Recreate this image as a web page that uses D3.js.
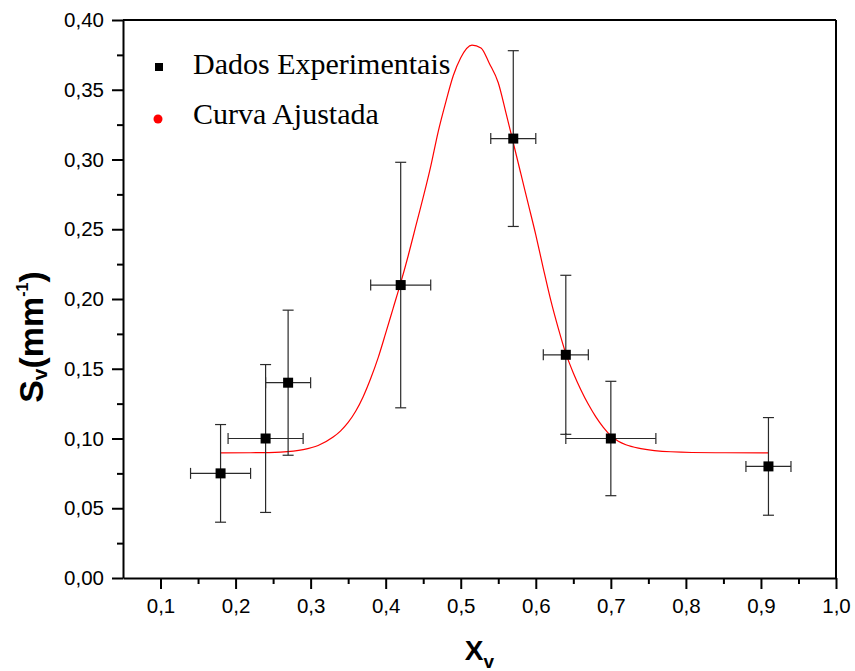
<!DOCTYPE html>
<html>
<head>
<meta charset="utf-8">
<script src="https://cdn.jsdelivr.net/npm/d3@7"></script>
<style>
  body { margin: 0; background: #fff; }
  .tickLabel { font-family: "Liberation Sans", Arial, sans-serif; font-size: 20.5px; }
  .legendText { font-family: "Liberation Serif", "Times New Roman", serif; font-size: 30px; }
  .axisTitle { font-family: "Liberation Sans", Arial, sans-serif; font-weight: bold; }
</style>
</head>
<body>
<div id="chart"></div>
<script>
// experimental points
const pointX = [0.18, 0.24, 0.27, 0.42, 0.57, 0.64, 0.70, 0.91];
const pointY = [0.075, 0.100, 0.140, 0.210, 0.315, 0.160, 0.100, 0.080];
const errX   = [0.04, 0.05, 0.03, 0.04, 0.03, 0.03, 0.06, 0.03];
const errY   = [0.035, 0.053, 0.052, 0.088, 0.063, 0.057, 0.041, 0.035];

// fitted curve
const curveX = [0.18, 0.22, 0.26, 0.29, 0.31, 0.33, 0.34, 0.35, 0.36, 0.37, 0.38, 0.39, 0.40, 0.41, 0.42, 0.43, 0.44, 0.46, 0.47, 0.48, 0.49, 0.50, 0.515, 0.527, 0.538, 0.55, 0.56, 0.57, 0.58, 0.59, 0.60, 0.61, 0.62, 0.63, 0.64, 0.65, 0.66, 0.67, 0.68, 0.69, 0.70, 0.71, 0.72, 0.74, 0.78, 0.84, 0.91];
const curveY = [0.0897, 0.0898, 0.0903, 0.0920, 0.0950, 0.1010, 0.1055, 0.1115, 0.1195, 0.1300, 0.1430, 0.1580, 0.1755, 0.1935, 0.2115, 0.2310, 0.2520, 0.2950, 0.3200, 0.3410, 0.3600, 0.3730, 0.3820, 0.3800, 0.3690, 0.3550, 0.3340, 0.3120, 0.2900, 0.2680, 0.2460, 0.2220, 0.1990, 0.1790, 0.1610, 0.1470, 0.1350, 0.1245, 0.1155, 0.1080, 0.1020, 0.0980, 0.0955, 0.0928, 0.0905, 0.0898, 0.0897];

const xTicks = [0.1, 0.2, 0.3, 0.4, 0.5, 0.6, 0.7, 0.8, 0.9, 1.0];
const xMinorTicks = [0.15, 0.25, 0.35, 0.45, 0.55, 0.65, 0.75, 0.85, 0.95];
const yTicks = [0, 0.05, 0.10, 0.15, 0.20, 0.25, 0.30, 0.35, 0.40];
const yMinorTicks = [0.025, 0.075, 0.125, 0.175, 0.225, 0.275, 0.325, 0.375];

const legendLabels = ["Dados Experimentais", "Curva Ajustada"];

const W = 855, H = 671;
const margin = {top: 20, right: 19, bottom: 93, left: 123};
const width = W - margin.left - margin.right;
const height = H - margin.top - margin.bottom;

const svg = d3.select("#chart").append("svg")
    .attr("width", W)
    .attr("height", H);

const g = svg.append("g")
    .attr("transform", "translate(" + margin.left + "," + margin.top + ")");

const x = d3.scaleLinear().domain([0.05, 1.0]).range([0, width]);
const y = d3.scaleLinear().domain([0, 0.40]).range([height, 0]);

const comma = f => d => d3.format(f)(d).replace(".", ",");

// frame (top and right, no ticks)
g.append("line").attr("x1", 0).attr("x2", width).attr("y1", 0).attr("y2", 0)
    .attr("stroke", "#000").attr("stroke-width", 2);
g.append("line").attr("x1", width).attr("x2", width).attr("y1", 0).attr("y2", height)
    .attr("stroke", "#000").attr("stroke-width", 2);

// minor ticks
g.append("g")
    .attr("transform", "translate(0," + height + ")")
    .call(d3.axisBottom(x).tickValues(xMinorTicks).tickSize(6).tickFormat(""))
    .call(a => a.select(".domain").remove());
g.append("g")
    .call(d3.axisLeft(y).tickValues(yMinorTicks).tickSize(6).tickFormat(""))
    .call(a => a.select(".domain").remove());

// major axes
g.append("g")
    .attr("transform", "translate(0," + height + ")")
    .call(d3.axisBottom(x).tickValues(xTicks).tickSize(11).tickSizeOuter(0).tickPadding(9).tickFormat(comma(".1f")));
g.append("g")
    .call(d3.axisLeft(y).tickValues(yTicks).tickSize(11).tickSizeOuter(0).tickPadding(8).tickFormat(comma(".2f")));

g.selectAll(".tick line").attr("stroke", "#000").attr("stroke-width", 2);
g.selectAll(".domain").attr("stroke", "#000").attr("stroke-width", 2);
g.selectAll(".tick text").attr("class", "tickLabel").attr("fill", "#000");

// fitted curve
const curveData = curveX.map((v, i) => ({x: v, y: curveY[i]}));
g.append("path")
    .datum(curveData)
    .attr("fill", "none")
    .attr("stroke", "#ff0000")
    .attr("stroke-width", 1.2)
    .attr("d", d3.line().x(d => x(d.x)).y(d => y(d.y)).curve(d3.curveMonotoneX));

// error bars and markers
const points = pointX.map((v, i) => ({x: v, y: pointY[i], ex: errX[i], ey: errY[i]}));
const cap = 5.5;
const barColor = "#2a2a2a";

const ptG = g.selectAll(".point")
    .data(points)
    .join("g")
    .attr("class", "point");

const bar = (sel, x1, x2, y1, y2) => sel.append("line")
    .attr("x1", x1).attr("x2", x2).attr("y1", y1).attr("y2", y2)
    .attr("stroke", barColor).attr("stroke-width", 1.2);

bar(ptG, d => x(d.x), d => x(d.x), d => y(d.y - d.ey), d => y(d.y + d.ey));
bar(ptG, d => x(d.x) - cap, d => x(d.x) + cap, d => y(d.y + d.ey), d => y(d.y + d.ey));
bar(ptG, d => x(d.x) - cap, d => x(d.x) + cap, d => y(d.y - d.ey), d => y(d.y - d.ey));
bar(ptG, d => x(d.x - d.ex), d => x(d.x + d.ex), d => y(d.y), d => y(d.y));
bar(ptG, d => x(d.x - d.ex), d => x(d.x - d.ex), d => y(d.y) - cap, d => y(d.y) + cap);
bar(ptG, d => x(d.x + d.ex), d => x(d.x + d.ex), d => y(d.y) - cap, d => y(d.y) + cap);

const sq = 10;
ptG.append("rect")
    .attr("x", d => x(d.x) - sq / 2)
    .attr("y", d => y(d.y) - sq / 2)
    .attr("width", sq).attr("height", sq)
    .attr("fill", "#000");

// legend
const legend = svg.append("g").attr("transform", "translate(159,0)");
legend.append("rect")
    .attr("x", -4).attr("y", 63).attr("width", 8).attr("height", 8)
    .attr("fill", "#000");
legend.append("circle")
    .attr("cx", -1).attr("cy", 119).attr("r", 4.5)
    .attr("fill", "#ff0000");
legend.selectAll(".legendText")
    .data(legendLabels)
    .join("text")
    .attr("class", "legendText")
    .attr("x", 34)
    .attr("y", (d, i) => 74 + i * 50)
    .text(d => d);

// axis titles
const xTitle = svg.append("text")
    .attr("class", "axisTitle")
    .attr("font-size", 28)
    .attr("text-anchor", "middle")
    .attr("x", margin.left + width / 2)
    .attr("y", 660);
xTitle.append("tspan").text("X");
xTitle.append("tspan").attr("font-size", 19).attr("dy", 8).text("v");

const yTitle = svg.append("text")
    .attr("class", "axisTitle")
    .attr("font-size", 34)
    .attr("text-anchor", "middle")
    .attr("transform", "translate(43,337) rotate(-90)");
yTitle.append("tspan").text("S");
yTitle.append("tspan").attr("font-size", 21).attr("dy", 4).text("v");
yTitle.append("tspan").attr("dy", -4).text("(mm");
yTitle.append("tspan").attr("font-size", 16).attr("dy", -15).text("-1");
yTitle.append("tspan").attr("dy", 15).text(")");
</script>
</body>
</html>
